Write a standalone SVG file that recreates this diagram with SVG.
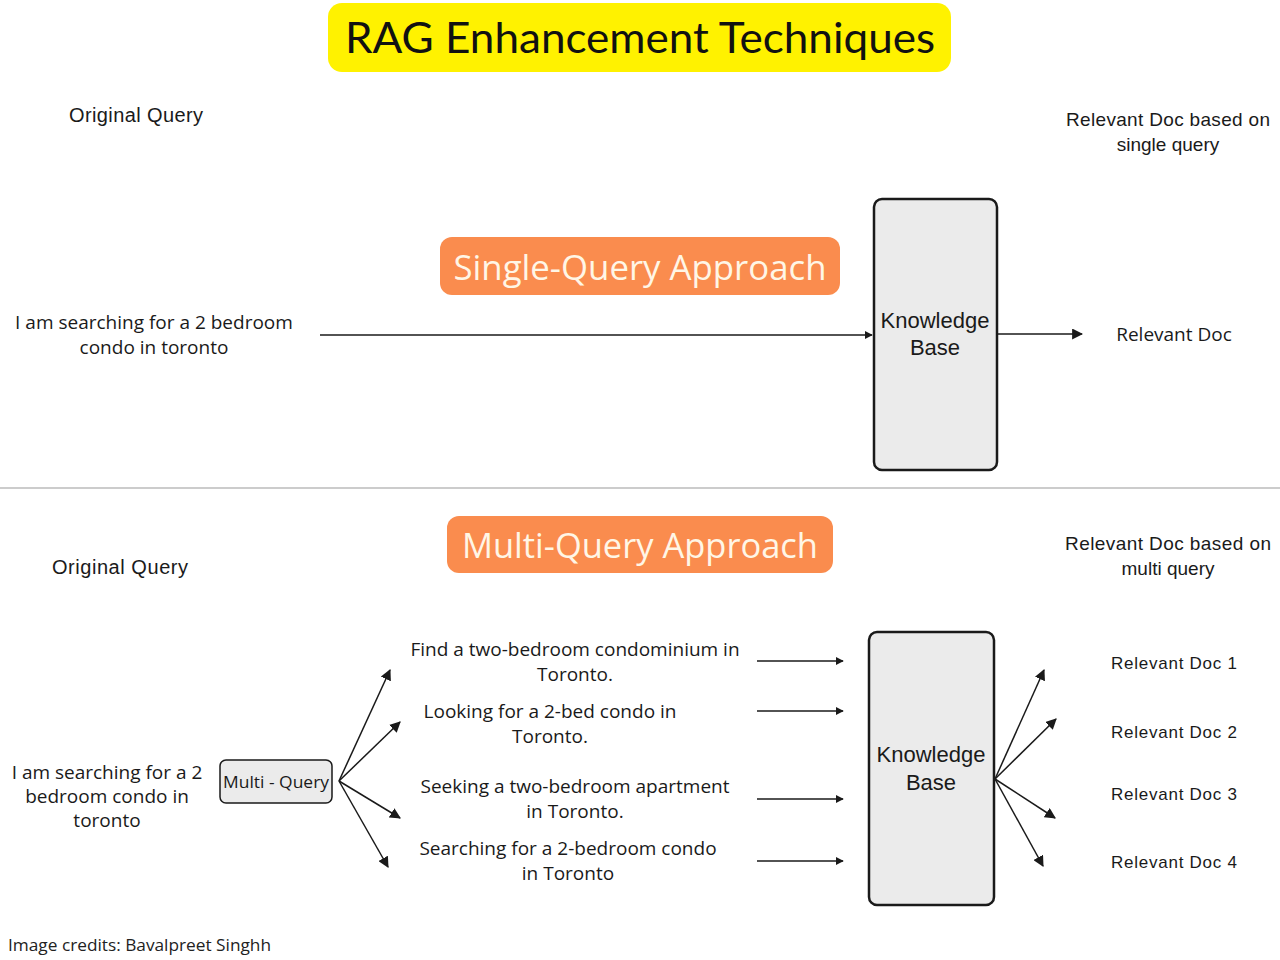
<svg xmlns="http://www.w3.org/2000/svg" width="1280" height="960" viewBox="0 0 1280 960">
<defs>
<style>
.t{font-family:"Open Sans","Liberation Sans",sans-serif;font-size:19px;fill:#1a1a1a;text-anchor:middle}
.a{font-family:"Liberation Sans",Arial,sans-serif;font-size:19px;fill:#1a1a1a;text-anchor:middle}
.kt{font-family:"Liberation Sans",Arial,sans-serif;font-size:22px;fill:#1a1a1a;text-anchor:middle}
.rd{font-family:"Liberation Sans",Arial,sans-serif;font-size:17px;fill:#1a1a1a;text-anchor:middle}
.kb{fill:#ebebeb;stroke:#1a1a1a;stroke-width:2.5}
.ln{stroke:#1a1a1a;stroke-width:1.5;fill:none}
.hd{font-family:"Open Sans","Liberation Sans",sans-serif;font-size:34px;fill:#fff6e6;text-anchor:middle}
</style>
<marker id="ah" viewBox="0 0 10 10" refX="9" refY="5" markerWidth="8" markerHeight="8" markerUnits="userSpaceOnUse" orient="auto"><path d="M0,0 L10,5 L0,10 z" fill="#1a1a1a"/></marker>
<marker id="ah2" viewBox="0 0 10 10" refX="9" refY="5" markerWidth="11" markerHeight="11" markerUnits="userSpaceOnUse" orient="auto"><path d="M0,0 L10,5 L0,10 z" fill="#1a1a1a"/></marker>
</defs>
<rect width="1280" height="960" fill="#ffffff"/>
<g id="title"><rect x="328" y="3" width="623" height="69" rx="14" fill="#fff200"/><text x="640" y="53" font-family="Lato,'Open Sans',sans-serif" font-size="42" fill="#111" text-anchor="middle" textLength="590" lengthAdjust="spacingAndGlyphs">RAG Enhancement Techniques</text></g>
<line x1="0" y1="488" x2="1280" y2="488" stroke="#999" stroke-width="1.2"/>
<g id="single-head"><rect x="440" y="237" width="400" height="58" rx="12" fill="#fa8c4e"/><text x="640" y="280" class="hd" textLength="373" lengthAdjust="spacingAndGlyphs">Single-Query Approach</text></g>
<g id="multi-head"><rect x="447" y="516" width="386" height="57" rx="12" fill="#fa8c4e"/><text x="640" y="558" class="hd" textLength="356" lengthAdjust="spacingAndGlyphs">Multi-Query Approach</text></g>
<g id="orig1"><text x="136" y="122" class="a" style="font-size:20px" textLength="134">Original Query</text></g>
<g id="rel-single-head"><text x="1168" y="126" class="a" textLength="204">Relevant Doc based on</text><text x="1168" y="151" class="a">single query</text></g>
<g id="query1"><text x="154" y="329" class="t">I am searching for a 2 bedroom</text><text x="154" y="354" class="t">condo in toronto</text></g>
<g id="kb1"><rect x="874" y="199" width="123" height="271" rx="8" class="kb"/><text x="935" y="328" class="kt">Knowledge</text><text x="935" y="355" class="kt">Base</text></g>
<g id="reldoc"><text x="1174" y="341" class="t">Relevant Doc</text></g>
<g id="orig2"><text x="120" y="574" class="a" style="font-size:20px" textLength="136">Original Query</text></g>
<g id="rel-multi-head"><text x="1168" y="550" class="a" textLength="206">Relevant Doc based on</text><text x="1168" y="575" class="a">multi query</text></g>
<g id="query2"><text x="107" y="779" class="t">I am searching for a 2</text><text x="107" y="803" class="t">bedroom condo in</text><text x="107" y="827" class="t">toronto</text></g>
<g id="multiquery"><rect x="220" y="760" width="112" height="43" rx="6" fill="#ebebeb" stroke="#1a1a1a" stroke-width="1.5"/><text x="276" y="788" class="t" style="font-size:17px" textLength="106" lengthAdjust="spacingAndGlyphs">Multi - Query</text></g>
<g id="q1"><text x="575" y="656" class="t">Find a two-bedroom condominium in</text><text x="575" y="681" class="t">Toronto.</text></g>
<g id="q2"><text x="550" y="718" class="t">Looking for a 2-bed condo in</text><text x="550" y="743" class="t">Toronto.</text></g>
<g id="q3"><text x="575" y="793" class="t">Seeking a two-bedroom apartment</text><text x="575" y="818" class="t">in Toronto.</text></g>
<g id="q4"><text x="568" y="855" class="t">Searching for a 2-bedroom condo</text><text x="568" y="880" class="t">in Toronto</text></g>
<g id="kb2"><rect x="869" y="632" width="125" height="273" rx="8" class="kb"/><text x="931" y="762" class="kt">Knowledge</text><text x="931" y="790" class="kt">Base</text></g>
<g id="rd1"><text x="1174" y="669" class="rd" textLength="126">Relevant Doc 1</text></g>
<g id="rd2"><text x="1174" y="738" class="rd" textLength="126">Relevant Doc 2</text></g>
<g id="rd3"><text x="1174" y="800" class="rd" textLength="126">Relevant Doc 3</text></g>
<g id="rd4"><text x="1174" y="868" class="rd" textLength="126">Relevant Doc 4</text></g>
<g id="credits"><text x="8" y="951" font-family="'Open Sans','Liberation Sans',sans-serif" font-size="16" fill="#222" textLength="263" lengthAdjust="spacingAndGlyphs">Image credits: Bavalpreet Singhh</text></g>
<g id="connectors">
<line x1="320" y1="335" x2="872" y2="335" class="ln" marker-end="url(#ah)"/>
<line x1="997" y1="334" x2="1082" y2="334" class="ln" marker-end="url(#ah2)"/>
<line x1="339" y1="781" x2="390" y2="670" class="ln" marker-end="url(#ah2)"/>
<line x1="339" y1="781" x2="400" y2="722" class="ln" marker-end="url(#ah2)"/>
<line x1="339" y1="781" x2="400" y2="818" class="ln" marker-end="url(#ah2)"/>
<line x1="339" y1="781" x2="388" y2="867" class="ln" marker-end="url(#ah2)"/>
<line x1="757" y1="661" x2="843" y2="661" class="ln" marker-end="url(#ah)"/>
<line x1="757" y1="711" x2="843" y2="711" class="ln" marker-end="url(#ah)"/>
<line x1="757" y1="799" x2="843" y2="799" class="ln" marker-end="url(#ah)"/>
<line x1="757" y1="861" x2="843" y2="861" class="ln" marker-end="url(#ah)"/>
<line x1="995" y1="779" x2="1044" y2="670" class="ln" marker-end="url(#ah2)"/>
<line x1="995" y1="779" x2="1056" y2="719" class="ln" marker-end="url(#ah2)"/>
<line x1="995" y1="779" x2="1055" y2="818" class="ln" marker-end="url(#ah2)"/>
<line x1="995" y1="779" x2="1043" y2="866" class="ln" marker-end="url(#ah2)"/>
</g>
</svg>
